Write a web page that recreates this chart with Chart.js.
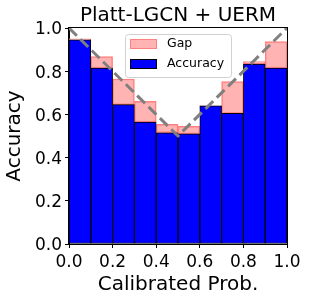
<!DOCTYPE html>
<html>
<head>
<meta charset="utf-8">
<script src="https://cdn.jsdelivr.net/npm/chart.js@4.4.0/dist/chart.umd.min.js"></script>
<style>
  body { margin: 0; background: #fff; }
</style>
</head>
<body>
<canvas id="chart" width="309" height="301"></canvas>
<script>
// bin centres (calibrated prob.)
const binCenters = [0.05, 0.15, 0.25, 0.35, 0.45, 0.55, 0.65, 0.75, 0.85, 0.95];
// accuracy per bin (blue)
const accuracy = [0.945, 0.815, 0.645, 0.565, 0.515, 0.51, 0.64, 0.605, 0.833, 0.815];
// confidence per bin (top of the pink gap)
const confidence = [0.95, 0.868, 0.764, 0.66, 0.554, 0.545, 0.63, 0.752, 0.845, 0.937];
// perfect calibration line
const diagX = [0, 0.5, 1];
const diagY = [1, 0.5, 1];
// tick labels
const xTicks = [0, 0.2, 0.4, 0.6, 0.8, 1.0];
const yTicks = [0, 0.2, 0.4, 0.6, 0.8, 1.0];

const titleText = "Platt-LGCN + UERM";
const FONT = '"DejaVu Sans", sans-serif';

// frame, title and legend box drawn on top like matplotlib does
const extrasPlugin = {
  id: "extras",
  afterDraw(chart) {
    const { ctx, chartArea: a } = chart;
    ctx.save();
    // axes frame
    ctx.strokeStyle = "#000";
    ctx.lineWidth = 1;
    ctx.strokeRect(Math.round(a.left) - 0.5, Math.round(a.top) - 0.5,
      Math.round(a.right - a.left) + 1, Math.round(a.bottom - a.top) + 1);

    // title
    ctx.fillStyle = "#000";
    ctx.font = "20px " + FONT;
    ctx.textAlign = "center";
    ctx.textBaseline = "alphabetic";
    ctx.fillText(titleText, (a.left + a.right) / 2, 21);

    // legend
    const lx = a.left + 56, ly = a.top + 6, lw = 106, lh = 43;
    ctx.beginPath();
    ctx.roundRect(lx + 0.5, ly + 0.5, lw, lh, 3);
    ctx.fillStyle = "rgba(255,255,255,0.8)";
    ctx.fill();
    ctx.strokeStyle = "#d0d0d0";
    ctx.stroke();

    const items = [chart.data.datasets[0], chart.data.datasets[1]];
    items.forEach((ds, i) => {
      const sy = ly + 5 + i * 20;
      ctx.fillStyle = ds.backgroundColor;
      ctx.fillRect(lx + 5, sy, 27, 10);
      ctx.strokeStyle = ds.borderColor;
      ctx.lineWidth = 1;
      ctx.strokeRect(lx + 5.5, sy + 0.5, 26, 9);
      ctx.fillStyle = "#000";
      ctx.font = "12.5px " + FONT;
      ctx.textAlign = "left";
      ctx.textBaseline = "middle";
      ctx.fillText(ds.label, lx + 42, sy + 5);
    });
    ctx.restore();
  }
};

const ctx = document.getElementById("chart").getContext("2d");
const chart = new Chart(ctx, {
  type: "bar",
  data: {
    datasets: [
      {
        label: "Gap",
        data: binCenters.map((x, i) => ({ x: x, y: [accuracy[i], confidence[i]] })),
        backgroundColor: "#ffb3b3",
        borderColor: "#ff8080",
        borderWidth: 1.5,
        borderSkipped: false,
        grouped: false,
        barPercentage: 1,
        categoryPercentage: 1,
        order: 2
      },
      {
        label: "Accuracy",
        data: binCenters.map((x, i) => ({ x: x, y: accuracy[i] })),
        backgroundColor: "#0000ff",
        borderColor: "#000000",
        borderWidth: 1,
        borderSkipped: false,
        grouped: false,
        barPercentage: 1,
        categoryPercentage: 1,
        order: 1
      },
      {
        type: "line",
        label: "diag",
        data: diagX.map((x, i) => ({ x: x, y: diagY[i] })),
        borderColor: "#808080",
        borderWidth: 3,
        borderDash: [11, 5],
        pointRadius: 0,
        fill: false,
        order: 0
      }
    ]
  },
  options: {
    responsive: false,
    animation: false,
    layout: { padding: { top: 28, right: 22, left: 0, bottom: 0 } },
    plugins: {
      legend: { display: false },
      title: { display: false },
      tooltip: { enabled: false }
    },
    scales: {
      x: {
        type: "linear",
        min: 0,
        max: 1,
        offset: false,
        afterBuildTicks: (s) => { s.ticks = xTicks.map(v => ({ value: v })); },
        afterFit: (s) => { s.height = 57; },
        ticks: {
          color: "#000",
          font: { family: FONT, size: 17 },
          padding: 4,
          maxRotation: 0,
          callback: (v) => v.toFixed(1)
        },
        grid: { offset: false, drawOnChartArea: false, drawTicks: true, tickLength: 4, color: "#000" },
        border: { display: true, color: "#000" },
        title: {
          display: true,
          text: "Calibrated Prob.",
          color: "#000",
          font: { family: FONT, size: 20 },
          padding: { top: 0, bottom: 4 }
        }
      },
      y: {
        min: 0,
        max: 1,
        afterBuildTicks: (s) => { s.ticks = yTicks.map(v => ({ value: v })); },
        afterFit: (s) => { s.width = 69; },
        ticks: {
          color: "#000",
          font: { family: FONT, size: 17 },
          padding: 3,
          labelOffset: 2,
          callback: (v) => v.toFixed(1)
        },
        grid: { drawOnChartArea: false, drawTicks: true, tickLength: 4, color: "#000" },
        border: { display: true, color: "#000" },
        title: {
          display: true,
          text: "Accuracy",
          color: "#000",
          font: { family: FONT, size: 20 },
          padding: { top: 3, bottom: 0 }
        }
      }
    }
  },
  plugins: [extrasPlugin]
});
</script>
</body>
</html>
